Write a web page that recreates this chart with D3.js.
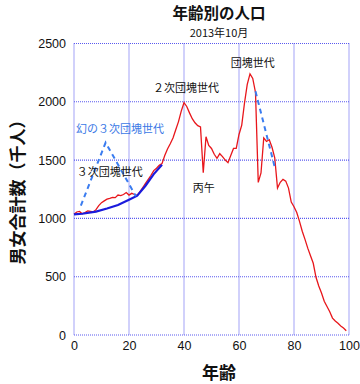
<!DOCTYPE html>
<html><head><meta charset="utf-8">
<script src="https://cdn.jsdelivr.net/npm/d3@7"></script>
<style>body{margin:0;background:#fff}svg{display:block}</style>
</head><body>
<svg id="c" width="360" height="384"></svg>
<script>
const ages = d3.range(0, 100);
const population = [
1035,1055,1060,1040,1050,1065,1060,1055,1075,1110,
1135,1150,1165,1172,1180,1178,1200,1195,1205,1222,
1200,1215,1205,1198,1230,1265,1300,1335,1370,1410,
1430,1455,1470,1540,1595,1640,1690,1760,1830,1920,
1992,1960,1905,1855,1820,1795,1785,1392,1700,1625,
1600,1550,1515,1555,1530,1500,1478,1540,1600,1600,
1720,1800,1990,2150,2240,2200,2080,1309,1390,1690,
1660,1675,1610,1520,1260,1310,1335,1320,1260,1140,
1100,1050,975,890,820,745,680,615,495,420,
360,290,245,200,145,120,100,78,60,37];
const thirdBoomAges = [0,3,8,12,16,20,23,26,29,32];
const thirdBoomVals = [1035,1040,1058,1085,1115,1160,1195,1280,1380,1460];
const phantomAges = [2.5,11.5,22.5];
const phantomVals = [1110,1650,1190];
const boomerDashAges = [66,73];
const boomerDashVals = [2090,1440];
const xTicks = [0,20,40,60,80,100];
const yTicks = [0,500,1000,1500,2000,2500];
const labels = [
  {t:"２次団塊世代", a:28.7, v:2110, c:"#111"},
  {t:"団塊世代", a:57, v:2324, c:"#111"},
  {t:"幻の３次団塊世代", a:0.7, v:1758, c:"#3a78e6"},
  {t:"３次団塊世代", a:1, v:1387, c:"#111"},
  {t:"丙午", a:43.2, v:1252, c:"#111"}
];

const svg = d3.select("#c");
const font = "'Noto Sans CJK JP', 'Noto Sans', sans-serif";
const numFont = "'Liberation Sans', Arial, sans-serif";
const m = {l:74, r:349, t:43.5, b:335};
const x = d3.scaleLinear().domain([0,100]).range([m.l, m.r]);
const y = d3.scaleLinear().domain([0,2500]).range([m.b, m.t]);

// grid
const gridColor = "#5a5af0";
svg.append("g").selectAll("line.v").data(xTicks).join("line")
  .attr("x1", d=>x(d)).attr("x2", d=>x(d)).attr("y1", m.t).attr("y2", m.b)
  .attr("stroke", gridColor).attr("stroke-width", 1.1).attr("stroke-dasharray","1,1");
svg.append("g").selectAll("line.h").data(yTicks).join("line")
  .attr("y1", d=>y(d)).attr("y2", d=>y(d)).attr("x1", m.l).attr("x2", m.r)
  .attr("stroke", gridColor).attr("stroke-width", 1.1).attr("stroke-dasharray","1,1");

// axes labels
const xAxis = d3.axisBottom(x).tickValues(xTicks).tickFormat(d3.format("d")).tickSize(0).tickPadding(6);
const gx = svg.append("g").attr("transform", `translate(0,${m.b})`).call(xAxis);
gx.select(".domain").remove();
gx.selectAll("text").attr("font-family", numFont).attr("font-size", 12.5).attr("fill","#111");
const yAxis = d3.axisLeft(y).tickValues(yTicks).tickFormat(d3.format("d")).tickSize(0).tickPadding(8);
const gy = svg.append("g").attr("transform", `translate(${m.l},0)`).call(yAxis);
gy.select(".domain").remove();
gy.selectAll("text").attr("font-family", numFont).attr("font-size", 12.5).attr("fill","#111");

const line = d3.line().x(d=>x(d[0])).y(d=>y(d[1]));

// red population
svg.append("path").datum(ages.map((a,i)=>[a, population[i]]))
  .attr("d", line).attr("fill","none").attr("stroke","#e8161b").attr("stroke-width",1.3);
// 3rd boom blue solid
svg.append("path").datum(thirdBoomAges.map((a,i)=>[a, thirdBoomVals[i]]))
  .attr("d", line).attr("fill","none").attr("stroke","#1a1adc").attr("stroke-width",2.2);
// phantom dashed
svg.append("path").datum(phantomAges.map((a,i)=>[a, phantomVals[i]]))
  .attr("d", line).attr("fill","none").attr("stroke","#3a7cf0").attr("stroke-width",2)
  .attr("stroke-dasharray","5,4");
svg.append("path").datum(boomerDashAges.map((a,i)=>[a, boomerDashVals[i]]))
  .attr("d", line).attr("fill","none").attr("stroke","#3a7cf0").attr("stroke-width",2)
  .attr("stroke-dasharray","5,4");

// annotations
svg.append("g").selectAll("text").data(labels).join("text")
  .attr("x", d=>x(d.a)).attr("y", d=>y(d.v)).attr("fill", d=>d.c)
  .attr("font-family", font).attr("font-size", 11).attr("dominant-baseline","middle")
  .text(d=>d.t);

// titles
svg.append("text").attr("x", 219).attr("y", 18.5).attr("text-anchor","middle")
  .attr("font-family", font).attr("font-size", 15.5).attr("font-weight","bold").attr("fill","#111")
  .text("年齢別の人口");
svg.append("text").attr("x", 219).attr("y", 36.5).attr("text-anchor","middle")
  .attr("font-family", font).attr("font-size", 11).attr("fill","#111")
  .text("2013年10月");
svg.append("text").attr("x", 219).attr("y", 379).attr("text-anchor","middle")
  .attr("font-family", font).attr("font-size", 17).attr("font-weight","bold").attr("fill","#111")
  .text("年齢");
svg.append("text").attr("transform","translate(24,188) rotate(-90)").attr("text-anchor","middle")
  .attr("font-family", font).attr("font-size", 17).attr("font-weight","bold").attr("fill","#111")
  .text("男女合計数（千人）");
</script>
</body></html>
